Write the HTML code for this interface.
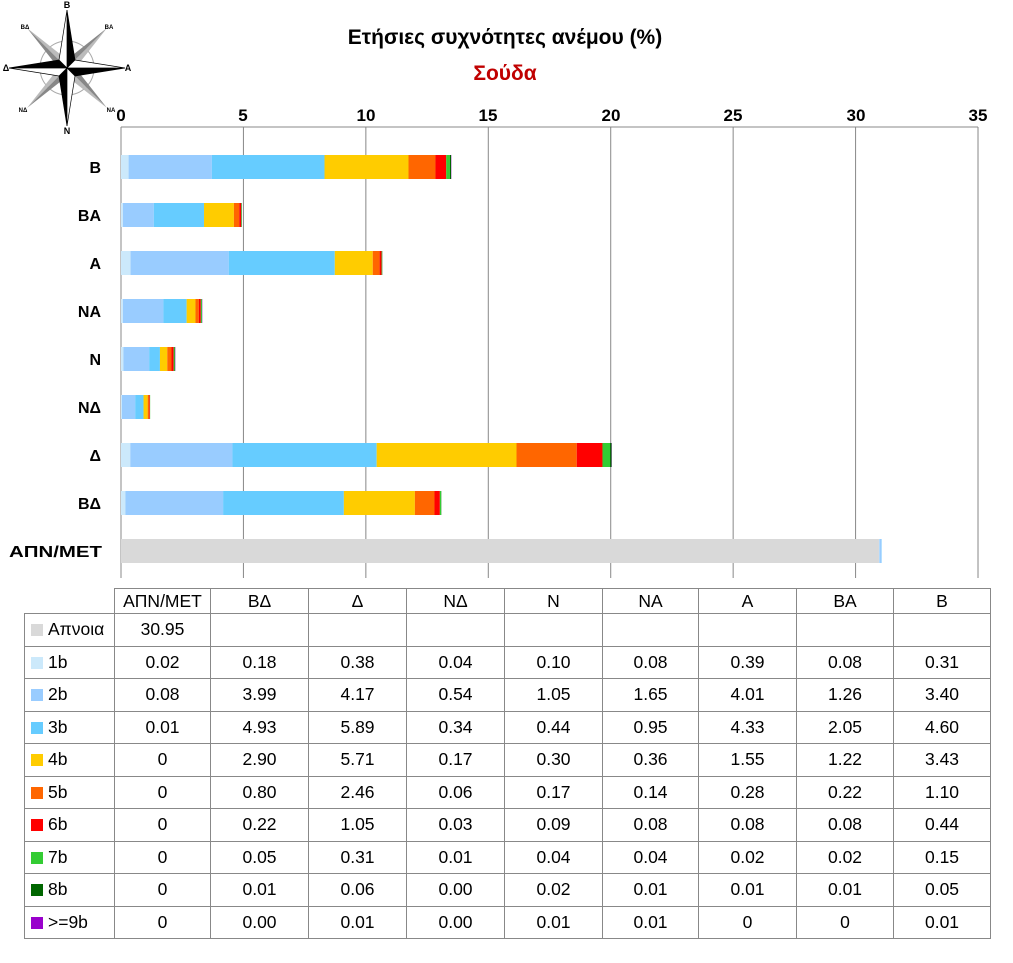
<!DOCTYPE html>
<html><head><meta charset="utf-8"><style>
body{margin:0;background:#fff;width:1013px;height:963px;overflow:hidden;font-family:"Liberation Sans","DejaVu Sans",sans-serif}
svg{position:absolute;left:0;top:0}
table{position:absolute;left:24px;top:588px;border-collapse:collapse;font-size:17.5px;color:#000}
td{border:1px solid #888;height:32.5px;padding:0;text-align:center;box-sizing:border-box}
tr:first-child td{height:25px}
td.l{text-align:left;padding-left:6px;width:90px}
.sw{display:inline-block;width:12px;height:12px;margin-right:5px;vertical-align:-1px}
</style></head><body>
<svg id="s" width="1013" height="963" font-family="Liberation Sans, DejaVu Sans, sans-serif">
<text x="505" y="44" text-anchor="middle" font-size="21" font-weight="bold">Ετήσιες συχνότητες ανέμου (%)</text>
<text x="505" y="80" text-anchor="middle" font-size="21" font-weight="bold" fill="#c00000">Σούδα</text>
<g font-size="17" font-weight="bold" text-anchor="middle">
<text x="121" y="121">0</text><text x="243" y="121">5</text><text x="366" y="121">10</text><text x="488" y="121">15</text><text x="611" y="121">20</text><text x="733" y="121">25</text><text x="856" y="121">30</text><text x="978" y="121">35</text>
</g>
<g font-size="16" font-weight="bold" text-anchor="end">
<text x="101" y="173">Β</text><text x="101" y="221">ΒΑ</text><text x="101" y="269">Α</text><text x="101" y="317">ΝΑ</text><text x="101" y="365">Ν</text><text x="101" y="413">ΝΔ</text><text x="101" y="461">Δ</text><text x="101" y="509">ΒΔ</text><text x="9" y="557" text-anchor="start" textLength="93" lengthAdjust="spacingAndGlyphs">ΑΠΝ/ΜΕΤ</text>
</g>
<g id="grid" stroke="#888" stroke-width="1"></g>
<g id="bars"></g>
<g transform="translate(67,68)">
<circle r="27" fill="none" stroke="#aaa" stroke-width="1"/>
<g fill="#bbb"><polygon points="0,0 40,-40 10,-2"/><polygon points="0,0 -40,-40 -2,-10"/><polygon points="0,0 40,40 2,10"/><polygon points="0,0 -40,40 -10,2"/></g>
<g fill="#888"><polygon points="0,0 40,-40 2,-10"/><polygon points="0,0 -40,-40 -10,-2"/><polygon points="0,0 40,40 10,2"/><polygon points="0,0 -40,40 -2,10"/></g>
<g fill="#000" stroke="#000" stroke-width=".7"><polygon points="0,0 0,-58 8,-8"/><polygon points="0,0 58,0 8,8"/><polygon points="0,0 0,58 -8,8"/><polygon points="0,0 -58,0 -8,-8"/></g>
<g fill="#fff" stroke="#000" stroke-width=".7"><polygon points="0,0 0,-58 -8,-8"/><polygon points="0,0 58,0 8,-8"/><polygon points="0,0 0,58 8,8"/><polygon points="0,0 -58,0 -8,8"/></g>
<g font-size="9" font-weight="bold" text-anchor="middle"><text x="0" y="-60">Β</text><text x="0" y="66">Ν</text><text x="-61" y="3">Δ</text><text x="61" y="3">Α</text><text x="-42" y="-39" font-size="6">ΒΔ</text><text x="42" y="-39" font-size="6">ΒΑ</text><text x="-44" y="44" font-size="6">ΝΔ</text><text x="44" y="44" font-size="6">ΝΑ</text></g>
</g>
</svg>
<table>
<tr><td style="border:none;border-bottom:1px solid #888;width:90px"></td><td style="width:96px">ΑΠΝ/ΜΕΤ</td><td style="width:98px">ΒΔ</td><td style="width:98px">Δ</td><td style="width:98px">ΝΔ</td><td style="width:98px">Ν</td><td style="width:96px">ΝΑ</td><td style="width:98px">Α</td><td style="width:97px">ΒΑ</td><td style="width:97px">Β</td></tr>
<tr><td class="l"><span class="sw" style="background:#d9d9d9"></span>Απνοια</td><td>30.95</td><td></td><td></td><td></td><td></td><td></td><td></td><td></td><td></td></tr>
<tr><td class="l"><span class="sw" style="background:#cce9fb"></span>1b</td><td>0.02</td><td>0.18</td><td>0.38</td><td>0.04</td><td>0.10</td><td>0.08</td><td>0.39</td><td>0.08</td><td>0.31</td></tr>
<tr><td class="l"><span class="sw" style="background:#99ccff"></span>2b</td><td>0.08</td><td>3.99</td><td>4.17</td><td>0.54</td><td>1.05</td><td>1.65</td><td>4.01</td><td>1.26</td><td>3.40</td></tr>
<tr><td class="l"><span class="sw" style="background:#66ccff"></span>3b</td><td>0.01</td><td>4.93</td><td>5.89</td><td>0.34</td><td>0.44</td><td>0.95</td><td>4.33</td><td>2.05</td><td>4.60</td></tr>
<tr><td class="l"><span class="sw" style="background:#ffcc00"></span>4b</td><td>0</td><td>2.90</td><td>5.71</td><td>0.17</td><td>0.30</td><td>0.36</td><td>1.55</td><td>1.22</td><td>3.43</td></tr>
<tr><td class="l"><span class="sw" style="background:#ff6600"></span>5b</td><td>0</td><td>0.80</td><td>2.46</td><td>0.06</td><td>0.17</td><td>0.14</td><td>0.28</td><td>0.22</td><td>1.10</td></tr>
<tr><td class="l"><span class="sw" style="background:#ff0000"></span>6b</td><td>0</td><td>0.22</td><td>1.05</td><td>0.03</td><td>0.09</td><td>0.08</td><td>0.08</td><td>0.08</td><td>0.44</td></tr>
<tr><td class="l"><span class="sw" style="background:#33cc33"></span>7b</td><td>0</td><td>0.05</td><td>0.31</td><td>0.01</td><td>0.04</td><td>0.04</td><td>0.02</td><td>0.02</td><td>0.15</td></tr>
<tr><td class="l"><span class="sw" style="background:#006600"></span>8b</td><td>0</td><td>0.01</td><td>0.06</td><td>0.00</td><td>0.02</td><td>0.01</td><td>0.01</td><td>0.01</td><td>0.05</td></tr>
<tr><td class="l"><span class="sw" style="background:#9900cc"></span>&gt;=9b</td><td>0</td><td>0.00</td><td>0.01</td><td>0.00</td><td>0.01</td><td>0.01</td><td>0</td><td>0</td><td>0.01</td></tr>
</table>
<script>
var NS="http://www.w3.org/2000/svg",g=document.getElementById("grid"),b=document.getElementById("bars");
function el(p,t,a){var e=document.createElementNS(NS,t);for(var k in a)e.setAttribute(k,a[k]);p.appendChild(e);}
for(var i=0;i<=7;i++){var x=121+i*122.43;el(g,"line",{x1:x,x2:x,y1:127,y2:578});}
el(g,"line",{x1:121,x2:978,y1:127,y2:127});
var cols=["#d9d9d9","#cce9fb","#99ccff","#66ccff","#ffcc00","#ff6600","#ff0000","#33cc33","#006600","#9900cc"];
var d=[[0,.31,3.40,4.60,3.43,1.10,.44,.15,.05,.01],[0,.08,1.26,2.05,1.22,.22,.08,.02,.01,0],[0,.39,4.01,4.33,1.55,.28,.08,.02,.01,0],[0,.08,1.65,.95,.36,.14,.08,.04,.01,.01],[0,.10,1.05,.44,.30,.17,.09,.04,.02,.01],[0,.04,.54,.34,.17,.06,.03,.01,0,0],[0,.38,4.17,5.89,5.71,2.46,1.05,.31,.06,.01],[0,.18,3.99,4.93,2.90,.80,.22,.05,.01,0],[30.95,.02,.08,.01,0,0,0,0,0,0]];
d.forEach(function(r,j){var x=121,y=167+48*j-12;r.forEach(function(v,k){if(v>0){var w=v*24.49;el(b,"rect",{x:x,y:y,width:w,height:24,fill:cols[k]});x+=w;}});});
</script>
</body></html>
